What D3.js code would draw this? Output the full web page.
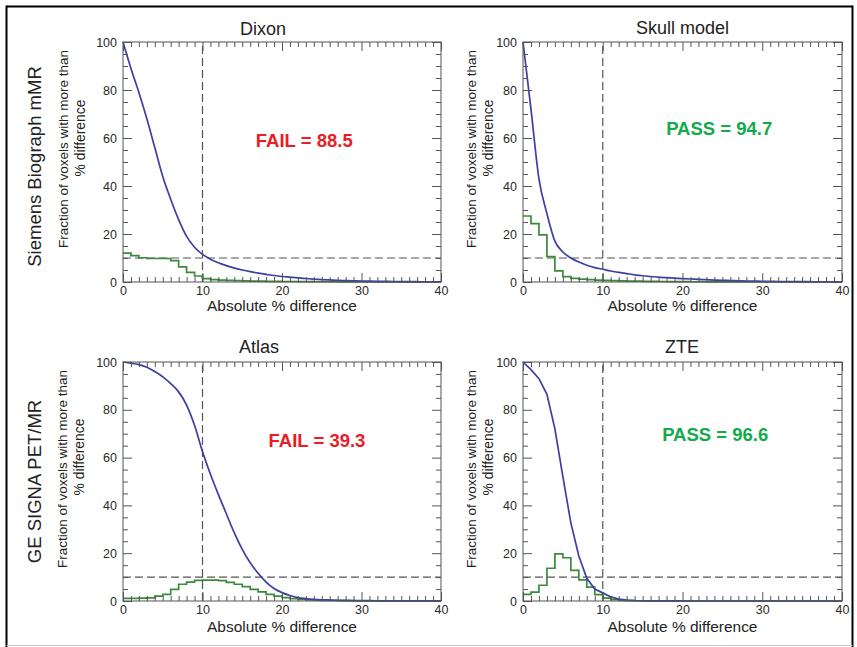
<!DOCTYPE html>
<html><head><meta charset="utf-8">
<script src="https://cdn.jsdelivr.net/npm/d3@7"></script>
<style>
html,body{margin:0;padding:0;background:#fff;}
svg{display:block;}
text{font-family:"Liberation Sans",Arial,Helvetica,sans-serif;}
</style></head><body>
<svg id="chart" width="857" height="647"></svg>
<script>
// ---------- DATA ----------
const diffGrid = [0,1,2,3,4,5,6,7,8,9,10,11,12,13,14,15,16,17,18,19,20,21,22,23,24,25,26,27,28,29,30,31,32,33,34,35,36,37,38,39,40];
const panelTitles = ["Dixon", "Skull model", "Atlas", "ZTE"];
const rowLabels = ["Siemens Biograph mMR", "GE SIGNA PET/MR"];
const verdictTexts = ["FAIL = 88.5", "PASS = 94.7", "FAIL = 39.3", "PASS = 96.6"];
const verdictPass = [false, true, false, true];
const xTickValues = [0, 10, 20, 30, 40];
const yTickValues = [0, 20, 40, 60, 80, 100];
const thresholdX = 10;
const thresholdY = 10;
const yTitleLines = ["Fraction of voxels with more than", "% difference"];
const xTitle = "Absolute % difference";

// cumulative curve: fraction of voxels with more than x % difference (blue)
const dixonCurve = [100,89,79,68,56,44,34.5,26,19,14.5,11.5,9.5,8,6.8,5.8,5,4.3,3.7,3.2,2.7,2.3,2.0,1.7,1.45,1.2,1.0,0.85,0.7,0.6,0.5,0.4,0.35,0.3,0.25,0.2,0.18,0.15,0.12,0.1,0.1,0.1];
const skullCurve = [100,72,43,28.5,17,12.5,10,8.3,7,6,5.3,4.6,4,3.5,3,2.6,2.3,2.0,1.8,1.6,1.4,1.25,1.1,0.95,0.8,0.7,0.6,0.5,0.4,0.35,0.3,0.25,0.2,0.18,0.15,0.13,0.12,0.1,0.1,0.1,0.1];
const atlasCurve = [100,99.5,98.9,97.8,96,93.8,91,87.5,82,73.5,62.5,53,44.5,36.5,28.5,21.6,16,11.6,7.9,5.2,3.5,2.3,1.4,1.0,0.7,0.5,0.4,0.3,0.22,0.17,0.14,0.12,0.1,0.08,0.07,0.06,0.05,0.05,0.04,0.04,0.04];
const zteCurve = [100,96.8,93,86.5,72,52,32.7,18.8,9.5,5.0,3.4,1.7,0.8,0.4,0.2,0.1,0.06,0.04,0.03,0.02,0.02,0.01,0.01,0.01,0.01,0.01,0.01,0.01,0.01,0.01,0.01,0.01,0.01,0.01,0.01,0.01,0.01,0.01,0.01,0.01,0.01];

// histogram, 1 % bins (green)
const dixonHist = [12,11,10.1,9.8,9.8,9.8,8.9,6.3,4.0,2.5,1.4,1.0,0.8,0.7,0.6,0.5,0.4,0.35,0.3,0.25,0.2,0.2,0.15,0.15,0.1,0.1,0.1,0.08,0.07,0.06,0.05,0.05,0.04,0.03,0.03,0.02,0.02,0.02,0.01,0.01];
const skullHist = [27.5,24.3,19.6,10.6,4.6,2.2,1.5,1.2,1.0,0.8,0.7,0.6,0.5,0.4,0.35,0.3,0.25,0.2,0.18,0.15,0.12,0.1,0.1,0.08,0.07,0.06,0.05,0.04,0.04,0.03,0.03,0.02,0.02,0.02,0.01,0.01,0.01,0.01,0.01,0.01];
const atlasHist = [1.1,1.1,1.2,1.3,2.0,2.8,4.9,7.0,7.9,8.6,8.7,8.7,8.5,7.8,7.0,6.0,4.9,3.8,2.8,2.0,1.4,1.0,0.7,0.5,0.35,0.25,0.2,0.15,0.12,0.1,0.08,0.06,0.05,0.04,0.03,0.03,0.02,0.02,0.01,0.01];
const zteHist = [2.8,3.7,6.6,13.7,19.7,18.1,12.8,8.8,5.8,2.7,1.2,0.6,0.3,0.15,0.1,0.05,0.03,0.02,0.01,0.01,0,0,0,0,0,0,0,0,0,0,0,0,0,0,0,0,0,0,0,0];

const curves = [dixonCurve, skullCurve, atlasCurve, zteCurve];
const hists = [dixonHist, skullHist, atlasHist, zteHist];
// verdict text anchor, in data units [x, y]
const verdictPos = [[22.8,56.4],[24.6,61.3],[24.4,64.6],[24.1,67.1]];

// ---------- LAYOUT ----------
const layout = [
  {left:123, top:42,  width:318, height:240, titleX:263, titleY:34.5, yt1:68, yt2:85, ytC1:149, ytC2:138, xtY:311, smooth:true},
  {left:523, top:42,  width:319, height:240, titleX:682.5, titleY:33.5, yt1:476, yt2:493, ytC1:149, ytC2:138, xtY:311, smooth:true},
  {left:123, top:362, width:318, height:239, titleX:259, titleY:353, yt1:67, yt2:84, ytC1:469, ytC2:457, xtY:631.5, smooth:true},
  {left:523, top:362, width:319, height:239, titleX:682, titleY:353, yt1:476, yt2:493, ytC1:469, ytC2:457, xtY:631.5, smooth:false}
];
const rowLabelPos = [{x:41, y:166.5},{x:41, y:481.5}];
const yTitleLen = [198, 77];
const xTitleLen = 150;

const BLUE = "#3d3fa3", GREEN = "#3a8c3a", AXIS = "#555", LABEL = "#2a2a2a";
const RED_T = "#ec1c24", GREEN_T = "#13aa4b";

const svg = d3.select("#chart");

function fitText(sel, base, target){
  sel.attr("font-size", base + "px");
  const len = sel.node().getComputedTextLength();
  if (len > 0) sel.attr("font-size", (base * target / len).toFixed(2) + "px");
  return sel;
}

// outer frame
svg.append("line").attr("x1",6.5).attr("y1",6.5).attr("x2",852.5).attr("y2",6.5).attr("stroke","#000").attr("stroke-width",2);
svg.append("line").attr("x1",6.5).attr("y1",5.5).attr("x2",6.5).attr("y2",647).attr("stroke","#000").attr("stroke-width",2);
svg.append("line").attr("x1",852.5).attr("y1",5.5).attr("x2",852.5).attr("y2",647).attr("stroke","#000").attr("stroke-width",2);
svg.append("line").attr("x1",6.5).attr("y1",645.5).attr("x2",852.5).attr("y2",645.5).attr("stroke","#c8c8c8").attr("stroke-width",1);

// row labels
rowLabels.forEach((t,i)=>{
  svg.append("text").attr("transform",`translate(${rowLabelPos[i].x},${rowLabelPos[i].y}) rotate(-90)`)
    .attr("text-anchor","middle").attr("font-size","18.5px").attr("fill","#222").text(t);
});

const minorX = diffGrid.filter(v => xTickValues.indexOf(v) < 0);
const minorY = [5,10,15,25,30,35,45,50,55,65,70,75,85,90,95];

panelTitles.forEach((title, i) => {
  const L = layout[i];
  const x = d3.scaleLinear().domain([0,40]).range([0, L.width]);
  const y = d3.scaleLinear().domain([0,100]).range([L.height, 0]);
  const g = svg.append("g").attr("transform",`translate(${L.left},${L.top})`);

  // title
  svg.append("text").attr("x",L.titleX).attr("y",L.titleY).attr("text-anchor","middle")
    .attr("font-size","18px").attr("fill","#222").text(title);

  // y title
  fitText(svg.append("text").attr("transform",`translate(${L.yt1},${L.ytC1}) rotate(-90)`)
    .attr("text-anchor","middle").attr("fill","#222").text(yTitleLines[0]), 13.5, yTitleLen[0]);
  fitText(svg.append("text").attr("transform",`translate(${L.yt2},${L.ytC2}) rotate(-90)`)
    .attr("text-anchor","middle").attr("fill","#222").text(yTitleLines[1]), 13.5, yTitleLen[1]);

  // x title
  fitText(svg.append("text").attr("x",L.left + L.width/2).attr("y",L.xtY).attr("text-anchor","middle")
    .attr("fill","#222").text(xTitle), 15, xTitleLen);

  // threshold dashed lines
  g.append("line").attr("x1",x(thresholdX)).attr("x2",x(thresholdX)).attr("y1",y(0)).attr("y2",y(100))
    .attr("stroke","#555").attr("stroke-width",1.2).attr("stroke-dasharray","8,4");
  g.append("line").attr("x1",x(0)).attr("x2",x(40)).attr("y1",y(thresholdY)).attr("y2",y(thresholdY))
    .attr("stroke","#555").attr("stroke-width",1.2).attr("stroke-dasharray","8,4");

  // histogram step
  const h = hists[i];
  const histPts = h.map((v,k)=>[diffGrid[k], v]).concat([[diffGrid[h.length], h[h.length-1]]]);
  g.append("path").datum(histPts)
    .attr("d", d3.line().x(d=>x(d[0])).y(d=>y(d[1])).curve(d3.curveStepAfter))
    .attr("fill","none").attr("stroke",GREEN).attr("stroke-width",1.7);

  // cumulative curve
  g.append("path").datum(curves[i].map((v,k)=>[diffGrid[k], v]))
    .attr("d", d3.line().x(d=>x(d[0])).y(d=>y(d[1])).curve(L.smooth ? d3.curveMonotoneX : d3.curveLinear))
    .attr("fill","none").attr("stroke",BLUE).attr("stroke-width",1.7);

  // axes (ticks inward, all four sides)
  function styleAxis(sel){
    sel.select(".domain").remove();
    sel.selectAll(".tick line").attr("stroke",AXIS);
    sel.selectAll("text").attr("font-size","12.5px").attr("fill",LABEL)
      .attr("font-family",'"Liberation Sans",Arial,sans-serif');
    sel.attr("font-family",null).attr("font-size",null);
  }
  g.append("g").call(d3.axisLeft(y).tickValues(yTickValues).tickSize(-9).tickPadding(6)).call(styleAxis);
  g.append("g").call(d3.axisLeft(y).tickValues(minorY).tickSize(-5).tickFormat("")).call(styleAxis);
  g.append("g").attr("transform",`translate(${L.width},0)`).call(d3.axisRight(y).tickValues(yTickValues).tickSize(-9).tickFormat("")).call(styleAxis);
  g.append("g").attr("transform",`translate(${L.width},0)`).call(d3.axisRight(y).tickValues(minorY).tickSize(-5).tickFormat("")).call(styleAxis);
  g.append("g").attr("transform",`translate(0,${L.height})`).call(d3.axisBottom(x).tickValues(xTickValues).tickSize(-9).tickPadding(4)).call(styleAxis);
  g.append("g").attr("transform",`translate(0,${L.height})`).call(d3.axisBottom(x).tickValues(minorX).tickSize(-5).tickFormat("")).call(styleAxis);
  g.append("g").call(d3.axisTop(x).tickValues(xTickValues).tickSize(-9).tickFormat("")).call(styleAxis);
  g.append("g").call(d3.axisTop(x).tickValues(minorX).tickSize(-5).tickFormat("")).call(styleAxis);

  // frame
  g.append("rect").attr("x",0).attr("y",0).attr("width",L.width).attr("height",L.height)
    .attr("fill","none").attr("stroke",AXIS).attr("stroke-width",1);

  // verdict
  g.append("text").attr("x",x(verdictPos[i][0])).attr("y",y(verdictPos[i][1]))
    .attr("text-anchor","middle").attr("font-size","18.5px").attr("font-weight","bold")
    .attr("fill", verdictPass[i] ? GREEN_T : RED_T).text(verdictTexts[i]);
});
</script>
</body></html>
